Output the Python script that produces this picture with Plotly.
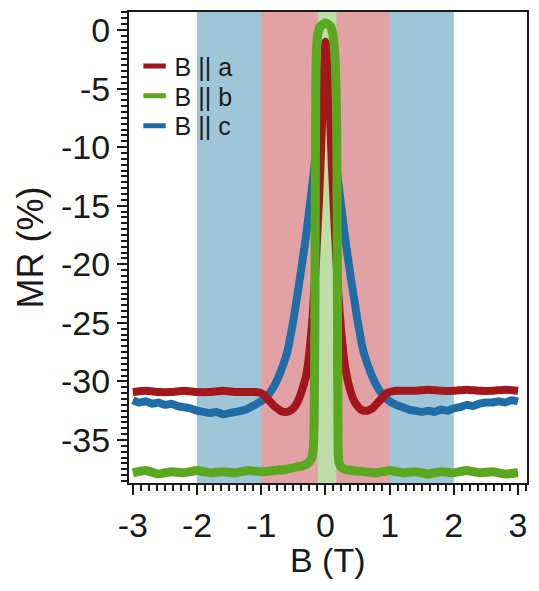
import plotly.graph_objects as go

# ---------------- data ----------------
B_a = [-3.0, -2.8, -2.6, -2.4, -2.2, -2.0, -1.8, -1.6, -1.4, -1.2, -1.1, -1.0,
       -0.95, -0.9, -0.85, -0.8, -0.75, -0.7, -0.65, -0.6, -0.55, -0.5, -0.45, -0.4, -0.35, -0.3,
       -0.25, -0.2, -0.15, -0.1, -0.07, -0.04, -0.02, 0.0, 0.02, 0.04, 0.07,
       0.1, 0.15, 0.2, 0.25,
       0.3, 0.35, 0.4, 0.45, 0.5, 0.55, 0.6, 0.65, 0.7, 0.75, 0.8, 0.85, 0.9, 0.95,
       1.0, 1.1, 1.2, 1.4, 1.6, 1.8, 2.0, 2.2, 2.4, 2.6, 2.8, 3.0]
MR_a = [-30.9, -30.8, -30.9, -30.9, -30.8, -30.9, -30.9, -30.8, -30.9, -30.9, -30.9, -31.0,
        -31.2, -31.5, -31.8, -32.1, -32.3, -32.5, -32.6, -32.6, -32.5, -32.3, -31.9, -31.3, -30.5, -29.5,
        -27.5, -24.5, -20.0, -14.5, -10.5, -6.0, -3.0, -1.0, -1.5, -3.5, -7.0,
        -11.5, -17.5, -22.5, -26.0,
        -28.5, -30.0, -31.0, -31.7, -32.1, -32.4, -32.5, -32.5, -32.4, -32.2, -31.9, -31.6, -31.3, -31.0,
        -30.9, -30.8, -30.8, -30.8, -30.7, -30.8, -30.8, -30.7, -30.8, -30.8, -30.7, -30.8]

B_b = [-3.0, -2.8, -2.6, -2.4, -2.2, -2.0, -1.8, -1.6, -1.4, -1.2, -1.0, -0.8, -0.6,
       -0.45, -0.35, -0.28, -0.22, -0.19, -0.175, -0.165, -0.16, -0.155, -0.15, -0.14, -0.12, -0.08, -0.04,
       0.0,
       0.04, 0.08, 0.12, 0.15, 0.17, 0.18, 0.185, 0.19, 0.195, 0.2, 0.21, 0.24, 0.3, 0.4,
       0.6, 0.8, 1.0, 1.2, 1.4, 1.6, 1.8, 2.0, 2.2, 2.4, 2.6, 2.8, 3.0]
MR_b = [-37.8, -37.6, -37.9, -37.7, -37.8, -37.6, -37.8, -37.7, -37.8, -37.6, -37.7, -37.6, -37.5,
        -37.3, -37.2, -37.0, -36.6, -35.8, -33.0, -25.0, -18.0, -10.0, -5.0, -1.8, -0.4, 0.3, 0.5,
        0.6,
        0.5, 0.3, -0.5, -2.5, -6.0, -12.0, -20.0, -28.0, -34.0, -36.2, -36.9, -37.3, -37.5, -37.6,
        -37.7, -37.8, -37.6, -37.8, -37.7, -37.9, -37.7, -37.8, -37.6, -37.8, -37.7, -37.9, -37.8]

B_c = [-3.0, -2.9, -2.8, -2.7, -2.6, -2.5, -2.4, -2.3, -2.2, -2.1, -2.0, -1.9, -1.8, -1.7, -1.6,
       -1.5, -1.4, -1.3, -1.2, -1.1, -1.0,
       -0.9, -0.8, -0.7, -0.6, -0.5, -0.4, -0.3, -0.2, -0.15, -0.1, -0.05,
       0.0,
       0.05, 0.1, 0.15, 0.2, 0.3, 0.4, 0.5, 0.6, 0.7, 0.8, 0.9, 1.0,
       1.1, 1.2, 1.3, 1.4, 1.5, 1.6, 1.7, 1.8, 1.9, 2.0, 2.1, 2.2, 2.3, 2.4, 2.5, 2.6, 2.7, 2.8, 2.9, 3.0]
MR_c = [-31.6, -31.8, -31.7, -31.9, -31.8, -32.0, -31.9, -32.1, -32.2, -32.3, -32.5, -32.6, -32.7, -32.6, -32.8,
        -32.7, -32.6, -32.5, -32.3, -32.0, -31.7,
        -31.2, -30.4, -29.2, -27.6, -24.8, -21.3, -17.5, -13.0, -10.5, -7.5, -5.0,
        -4.0,
        -5.0, -7.5, -10.5, -13.0, -17.5, -21.3, -24.8, -27.6, -29.2, -30.4, -31.2, -31.7,
        -32.0, -32.2, -32.4, -32.5, -32.6, -32.5, -32.6, -32.4, -32.5, -32.3, -32.2, -32.0, -32.1, -31.9,
        -31.8, -31.8, -31.7, -31.8, -31.6, -31.7]

SERIES_NAMES = ["B || a", "B || b", "B || c"]
SERIES_COLORS = ["#a3161c", "#5aa820", "#1f6da6"]

# shaded field ranges (T)
BAND_BLUE = [-2.0, 2.0]
BAND_RED = [-1.0, 1.0]
BAND_GREEN = [-0.12, 0.17]

X_TICKS = [-3, -2, -1, 0, 1, 2, 3]
X_TICKTEXT = ["-3", "-2", "-1", "0", "1", "2", "3"]
Y_TICKS = [0, -5, -10, -15, -20, -25, -30, -35]
Y_TICKTEXT = ["0", "-5", "-10", "-15", "-20", "-25", "-30", "-35"]

FONT = "Liberation Sans, Arial, Helvetica, sans-serif"

fig = go.Figure()

# data traces
for bx, my, col, w in [(B_c, MR_c, SERIES_COLORS[2], 8),
                       (B_a, MR_a, SERIES_COLORS[0], 8),
                       (B_b, MR_b, SERIES_COLORS[1], 9)]:
    fig.add_trace(go.Scatter(x=bx, y=my, mode="lines",
                             line=dict(color=col, width=w, shape="spline", smoothing=0.4),
                             showlegend=False, hoverinfo="skip"))

# legend entries (one small legend per entry for tight spacing)
legend_ids = ["legend", "legend2", "legend3"]
for name, col, lid in zip(SERIES_NAMES, SERIES_COLORS, legend_ids):
    fig.add_trace(go.Scatter(x=[None], y=[None], mode="markers", name=name, legend=lid,
                             marker=dict(symbol="line-ew", size=17,
                                         line=dict(color=col, width=7))))

shapes = []
for band, col in [(BAND_BLUE, "#9fc5d8"), (BAND_RED, "#e2a1a4"), (BAND_GREEN, "#bcdca8")]:
    shapes.append(dict(type="rect", xref="x", yref="paper", x0=band[0], x1=band[1],
                       y0=0, y1=1, fillcolor=col, line=dict(width=0), layer="below"))

axis_common = dict(showline=True, linecolor="#1a1a1a", linewidth=2, mirror=True,
                   ticks="outside", ticklen=10, tickwidth=2, tickcolor="#1a1a1a",
                   showgrid=False, zeroline=False,
                   tickfont=dict(family=FONT, size=34, color="#1a1a1a"))

legend_style = dict(xanchor="left", yanchor="middle", bgcolor="rgba(0,0,0,0)", borderwidth=0,
                    font=dict(family=FONT, size=25, color="#1a1a1a"), itemwidth=30)
legend_rows_y = [0.885, 0.8215, 0.758]

fig.update_layout(
    width=523, height=575,
    margin=dict(l=121, r=4, t=4, b=100, autoexpand=False),
    paper_bgcolor="white", plot_bgcolor="white",
    font=dict(family=FONT, color="#1a1a1a"),
    shapes=shapes,
    xaxis=dict(range=[-3.06, 3.14], tickvals=X_TICKS, ticktext=X_TICKTEXT,
               ticklabelstandoff=1,
               minor=dict(dtick=0.125, ticks="outside", ticklen=6, tickwidth=1.5,
                          tickcolor="#1a1a1a"),
               **axis_common),
    yaxis=dict(range=[-38.67, 1.54], tickvals=Y_TICKS, ticktext=Y_TICKTEXT,
               minor=dict(dtick=0.5, ticks="outside", ticklen=6, tickwidth=1.5,
                          tickcolor="#1a1a1a"),
               title=dict(text="MR (%)", font=dict(family=FONT, size=36), standoff=6),
               **axis_common),
    legend=dict(x=0.014, y=legend_rows_y[0], **legend_style),
    legend2=dict(x=0.014, y=legend_rows_y[1], **legend_style),
    legend3=dict(x=0.014, y=legend_rows_y[2], **legend_style),
    annotations=[dict(text="B (T)", xref="paper", yref="paper", x=0.5, y=0,
                      xanchor="center", yanchor="middle", yshift=-77, showarrow=False,
                      font=dict(family=FONT, size=34, color="#1a1a1a"))],
)

fig.write_html("out.html")
